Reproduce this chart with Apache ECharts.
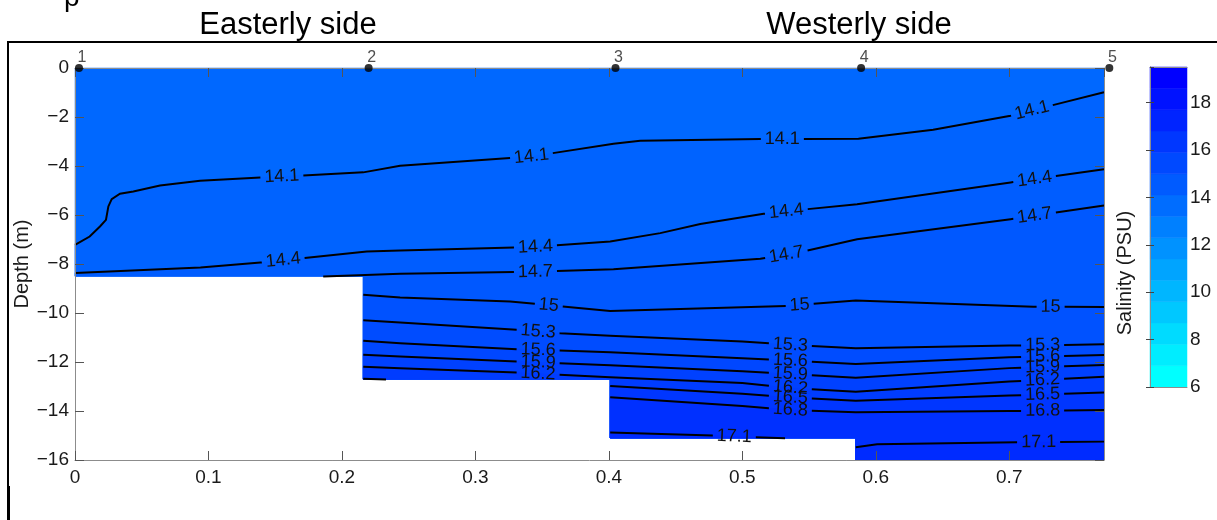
<!DOCTYPE html>
<html><head><meta charset="utf-8">
<script src="https://cdn.jsdelivr.net/npm/echarts@6/dist/echarts.min.js"></script>
<style>html,body{margin:0;padding:0;background:#fff;}#c{width:1217px;height:520px;}</style>
</head><body><div id="c"></div>
<script>
const FONT = '"Liberation Sans", Arial, Helvetica, sans-serif';

// ---- data ----
const xMax = 0.771;
const stationX = [0.003, 0.22, 0.405, 0.589, 0.775];
const stationNames = ['1', '2', '3', '4', '5'];

// bathymetry (step edges along distance, depth of each step)
const bottomEdges = [0, 0.216, 0.401, 0.585, 0.771];
const bottomDepths = [-8.5, -12.7, -15.1, -16];

// contour lines [distance, depth]
const line141 = [[0,-7.22],[0.011,-6.88],[0.0187,-6.47],[0.0232,-6.2],[0.025,-5.65],[0.0275,-5.35],[0.0337,-5.13],[0.0437,-5.04],[0.0637,-4.8],[0.0937,-4.6],[0.154,-4.43],[0.216,-4.26],[0.2436,-3.99],[0.342,-3.61],[0.4035,-3.09],[0.4235,-2.97],[0.5135,-2.9],[0.587,-2.89],[0.643,-2.52],[0.701,-1.95],[0.771,-0.99]];
const line144 = [[0,-8.37],[0.094,-8.14],[0.139,-7.94],[0.2186,-7.49],[0.2436,-7.45],[0.343,-7.31],[0.401,-7.08],[0.4385,-6.74],[0.4685,-6.37],[0.516,-5.95],[0.5435,-5.79],[0.586,-5.56],[0.701,-4.67],[0.771,-4.13]];
const line147 = [[0.186,-8.51],[0.2436,-8.4],[0.343,-8.32],[0.4035,-8.21],[0.5135,-7.79],[0.5435,-7.52],[0.586,-6.99],[0.701,-6.17],[0.771,-5.61]];
const line150 = [[0.216,-9.26],[0.2436,-9.37],[0.326,-9.53],[0.401,-9.92],[0.534,-9.71],[0.585,-9.49],[0.718,-9.74],[0.771,-9.76]];
const line153 = [[0.216,-10.3],[0.2436,-10.39],[0.332,-10.69],[0.3635,-10.83],[0.401,-10.93],[0.5,-11.16],[0.535,-11.3],[0.585,-11.44],[0.7,-11.33],[0.771,-11.28]];
const line156 = [[0.216,-11.13],[0.2436,-11.23],[0.332,-11.48],[0.401,-11.6],[0.5,-11.85],[0.54,-11.95],[0.585,-12.08],[0.7,-11.81],[0.771,-11.71]];
const line159 = [[0.216,-11.7],[0.2436,-11.78],[0.332,-11.98],[0.401,-12.13],[0.5,-12.38],[0.54,-12.5],[0.585,-12.64],[0.7,-12.25],[0.771,-12.12]];
const line162 = [[0.216,-12.19],[0.2436,-12.26],[0.332,-12.43],[0.401,-12.62],[0.5,-12.86],[0.54,-13.07],[0.585,-13.21],[0.7,-12.8],[0.771,-12.6]];
const line165a = [[0.216,-12.68],[0.233,-12.71]];
const line165 = [[0.401,-12.98],[0.5,-13.3],[0.54,-13.46],[0.585,-13.58],[0.7,-13.37],[0.771,-13.24]];
const line168 = [[0.401,-13.44],[0.5,-13.8],[0.54,-13.97],[0.585,-14.05],[0.7,-14.0],[0.771,-13.96]];
const line171a = [[0.401,-14.88],[0.478,-15.0],[0.508,-15.07],[0.532,-15.11]];
const line171b = [[0.585,-15.48],[0.601,-15.36],[0.706,-15.28],[0.771,-15.25]];

// contour label positions (distance)
const lab141 = [0.155, 0.342, 0.53, 0.717];
const lab144 = [0.156, 0.345, 0.533, 0.719];
const lab147 = [0.345, 0.533, 0.719];
const lab150 = [0.355, 0.543, 0.731];
const lab153 = [0.347, 0.536, 0.725];
const lab156 = [0.347, 0.536, 0.725];
const lab159 = [0.347, 0.536, 0.725];
const lab162 = [0.347, 0.536, 0.725];
const lab165 = [0.536, 0.725];
const lab168 = [0.536, 0.725];
const lab171a = [0.494];
const lab171b = [0.722];

// colorbar
const cbEdges = [6, 6.9, 7.8, 8.7, 9.6, 10.5, 11.4, 12.3, 13.2, 14.1, 15.0, 15.9, 16.8, 17.7, 18.6, 19.5];
const cbMin = 6, cbMax = 19.5;
const surfaceSalinity = 14.0;

// ---- build ----
const segments = [
  {level: 14.1, pts: line141, labs: lab141},
  {level: 14.4, pts: line144, labs: lab144},
  {level: 14.7, pts: line147, labs: lab147},
  {level: 15.0, pts: line150, labs: lab150},
  {level: 15.3, pts: line153, labs: lab153},
  {level: 15.6, pts: line156, labs: lab156},
  {level: 15.9, pts: line159, labs: lab159},
  {level: 16.2, pts: line162, labs: lab162},
  {level: 16.5, pts: line165a, labs: []},
  {level: 16.5, pts: line165, labs: lab165},
  {level: 16.8, pts: line168, labs: lab168},
  {level: 17.1, pts: line171a, labs: lab171a},
  {level: 17.1, pts: line171b, labs: lab171b}
];

function salColor(v) {
  const g = Math.round(Math.max(0, Math.min(255, 255 * (cbMax - v) / (cbMax - cbMin))));
  return 'rgb(0,' + g + ',255)';
}
function segIndex(x) {
  let i = 0;
  for (let k = 0; k < bottomDepths.length; k++) if (bottomEdges[k] <= x) i = k;
  return i;
}
function bottomPath(xa, xb) {
  const pts = [];
  let i = segIndex(xb);
  pts.push([xb, bottomDepths[i]]);
  while (bottomEdges[i] > xa && i > 0) {
    pts.push([bottomEdges[i], bottomDepths[i]]);
    pts.push([bottomEdges[i], bottomDepths[i - 1]]);
    i--;
  }
  pts.push([xa, bottomDepths[i]]);
  return pts;
}
function interpY(pts, x) {
  if (x <= pts[0][0]) return pts[0][1];
  for (let i = 0; i < pts.length - 1; i++) {
    const a = pts[i], b = pts[i + 1];
    if (x >= a[0] && x <= b[0]) return a[1] + (b[1] - a[1]) * (x - a[0]) / (b[0] - a[0]);
  }
  return pts[pts.length - 1][1];
}
function fmtLevel(v) { return String(+v.toFixed(1)); }
function fmtTick(v) { return String(+(+v).toFixed(2)).replace('-', '\u2212'); }

// polygons: water, then region below each contour (ascending level)
const polys = [];
polys.push({pts: [[0, 0], [xMax, 0]].concat(bottomPath(0, xMax)), color: salColor(surfaceSalinity)});
segments.forEach(s => {
  const p = s.pts;
  polys.push({pts: p.concat(bottomPath(p[0][0], p[p.length - 1][0])), color: salColor(s.level + 0.15)});
});

// labels
const mctx = document.createElement('canvas').getContext('2d');
const LABEL_FONT = '18px ' + FONT;
mctx.font = LABEL_FONT;
const labels = [];
segments.forEach((s, si) => {
  s.labs.forEach(x => {
    const text = fmtLevel(s.level);
    labels.push({seg: si, x: x, y: interpY(s.pts, x), text: text, w: mctx.measureText(text).width});
  });
});

function labelGeom(api, L) {
  const pts = segments[L.seg].pts;
  const d = 0.012;
  const p1 = api.coord([L.x - d, interpY(pts, L.x - d)]);
  const p2 = api.coord([L.x + d, interpY(pts, L.x + d)]);
  const c = api.coord([L.x, L.y]);
  const ang = Math.atan2(-(p2[1] - p1[1]), p2[0] - p1[0]);
  return {c: c, ang: ang};
}

function splitPolyline(pts, gaps) {
  const inGap = x => gaps.some(g => x > g[0] && x < g[1]);
  const out = [];
  let cur = [];
  for (let i = 0; i < pts.length - 1; i++) {
    const a = pts[i], b = pts[i + 1];
    const ts = [0, 1];
    if (b[0] !== a[0]) {
      gaps.forEach(g => g.forEach(gx => {
        const t = (gx - a[0]) / (b[0] - a[0]);
        if (t > 0 && t < 1) ts.push(t);
      }));
    }
    ts.sort((p, q) => p - q);
    for (let j = 0; j < ts.length - 1; j++) {
      const p0 = [a[0] + (b[0] - a[0]) * ts[j], a[1] + (b[1] - a[1]) * ts[j]];
      const p1 = [a[0] + (b[0] - a[0]) * ts[j + 1], a[1] + (b[1] - a[1]) * ts[j + 1]];
      if (inGap((p0[0] + p1[0]) / 2)) {
        if (cur.length > 1) out.push(cur);
        cur = [];
      } else {
        if (cur.length === 0) cur.push(p0);
        cur.push(p1);
      }
    }
  }
  if (cur.length > 1) out.push(cur);
  return out;
}

const AX = '#8c8c8c';
const TXT = '#1a1a1a';
function mainAxisBase() {
  return {
    axisLine: {show: true, onZero: false, lineStyle: {color: AX, width: 1}},
    axisTick: {show: true, inside: true, length: 9, lineStyle: {color: '#555'}},
    splitLine: {show: false},
    z: 5
  };
}

const option = {
  animation: false,
  backgroundColor: '#fff',
  grid: [
    {left: 75, top: 68, width: 1029, height: 392},
    {left: 1150, top: 67, width: 37, height: 320}
  ],
  xAxis: [
    Object.assign(mainAxisBase(), {gridIndex: 0, type: 'value', min: 0, max: xMax, interval: 0.1, position: 'bottom',
      axisLabel: {fontSize: 19, color: TXT, fontFamily: FONT, margin: 8, showMaxLabel: false, formatter: fmtTick}}),
    Object.assign(mainAxisBase(), {gridIndex: 0, type: 'value', min: 0, max: xMax, interval: 0.1, position: 'top',
      axisLabel: {show: false}}),
    {gridIndex: 1, type: 'value', min: 0, max: 1, position: 'bottom', axisLine: {show: true, lineStyle: {color: AX}},
      axisTick: {show: false}, axisLabel: {show: false}, splitLine: {show: false}, z: 5},
    {gridIndex: 1, type: 'value', min: 0, max: 1, position: 'top', axisLine: {show: true, lineStyle: {color: AX}},
      axisTick: {show: false}, axisLabel: {show: false}, splitLine: {show: false}, z: 5}
  ],
  yAxis: [
    Object.assign(mainAxisBase(), {gridIndex: 0, type: 'value', min: -16, max: 0, interval: 2, position: 'left',
      axisLabel: {fontSize: 19, color: TXT, fontFamily: FONT, margin: 6, formatter: fmtTick}}),
    Object.assign(mainAxisBase(), {gridIndex: 0, type: 'value', min: -16, max: 0, interval: 2, position: 'right',
      axisLabel: {show: false}}),
    {gridIndex: 1, type: 'value', min: cbMin, max: cbMax, interval: 2, position: 'right',
      axisLine: {show: true, lineStyle: {color: AX}},
      axisTick: {show: true, inside: true, length: 4, lineStyle: {color: '#444'}},
      axisLabel: {fontSize: 19, color: TXT, fontFamily: FONT, margin: 3, showMaxLabel: false},
      splitLine: {show: false}, z: 5},
    {gridIndex: 1, type: 'value', min: cbMin, max: cbMax, interval: 2, position: 'left',
      axisLine: {show: true, lineStyle: {color: AX}},
      axisTick: {show: true, inside: true, length: 4, lineStyle: {color: '#444'}},
      axisLabel: {show: false}, splitLine: {show: false}, z: 5}
  ],
  series: [
    {
      type: 'custom', name: 'fill', xAxisIndex: 0, yAxisIndex: 0, silent: true, z: 1,
      data: polys.map((p, i) => [i, 0]),
      renderItem: (params, api) => {
        const p = polys[api.value(0)];
        return {type: 'polygon', shape: {points: p.pts.map(q => api.coord(q))},
          style: {fill: p.color, stroke: p.color, lineWidth: 0.5}};
      }
    },
    {
      type: 'custom', name: 'contours', xAxisIndex: 0, yAxisIndex: 0, silent: true, z: 3,
      data: segments.map((s, i) => [i, 0]),
      renderItem: (params, api) => {
        const si = api.value(0);
        const seg = segments[si];
        const px = seg.pts.map(q => api.coord(q));
        const gaps = labels.filter(L => L.seg === si).map(L => {
          const g = labelGeom(api, L);
          const hw = (L.w / 2 + 4) * Math.cos(g.ang);
          return [g.c[0] - hw, g.c[0] + hw];
        });
        const parts = splitPolyline(px, gaps);
        return {type: 'group', children: parts.map(pp => ({type: 'polyline', shape: {points: pp},
          style: {stroke: '#000', lineWidth: 2, fill: null}}))};
      }
    },
    {
      type: 'custom', name: 'contourLabels', xAxisIndex: 0, yAxisIndex: 0, silent: true, z: 4,
      data: labels.map((L, i) => [i, 0]),
      renderItem: (params, api) => {
        const L = labels[api.value(0)];
        const g = labelGeom(api, L);
        return {type: 'text', x: g.c[0], y: g.c[1], rotation: g.ang,
          style: {text: L.text, font: LABEL_FONT, fill: '#111', align: 'center', verticalAlign: 'middle'}};
      }
    },
    {
      type: 'scatter', name: 'stations', xAxisIndex: 0, yAxisIndex: 0, silent: true, z: 10, clip: false,
      data: stationX.map((x, i) => ({value: [x, 0], name: stationNames[i]})),
      symbol: 'circle', symbolSize: 8, itemStyle: {color: '#000'},
      label: {show: true, position: 'top', distance: 0, offset: [3, 2], formatter: p => p.name,
        fontSize: 16, color: '#222', fontFamily: FONT}
    },
    {
      type: 'custom', name: 'colorbar', xAxisIndex: 2, yAxisIndex: 2, silent: true, z: 1,
      data: cbEdges.slice(0, -1).map((e, k) => [k, 0]),
      renderItem: (params, api) => {
        const k = api.value(0);
        const n = cbEdges.length - 1;
        const g = Math.round(255 * (1 - k / (n - 1)));
        const p1 = api.coord([0, cbEdges[k + 1]]);
        const p2 = api.coord([1, cbEdges[k]]);
        const col = 'rgb(0,' + g + ',255)';
        return {type: 'rect', shape: {x: p1[0], y: p1[1], width: p2[0] - p1[0], height: p2[1] - p1[1]},
          style: {fill: col, stroke: col, lineWidth: 0.5}};
      }
    }
  ],
  graphic: [
    {type: 'text', x: 288, y: 25, z: 20, style: {text: 'Easterly side', font: '31px ' + FONT, fill: '#000', align: 'center', verticalAlign: 'middle'}},
    {type: 'text', x: 859, y: 25, z: 20, style: {text: 'Westerly side', font: '31px ' + FONT, fill: '#000', align: 'center', verticalAlign: 'middle'}},
    {type: 'text', x: 64, y: -2, z: 20, style: {text: 'p', font: '28px ' + FONT, fill: '#000', align: 'left', verticalAlign: 'middle'}},
    {type: 'polyline', z: 20, shape: {points: [[1217, 42], [8, 42], [8, 520]]}, style: {stroke: '#000', lineWidth: 2, fill: null}},
    {type: 'line', z: 20, shape: {x1: 8.5, y1: 486, x2: 8.5, y2: 520}, style: {stroke: '#000', lineWidth: 3}},
    {type: 'text', x: 22, y: 264, rotation: Math.PI / 2, z: 20, style: {text: 'Depth (m)', font: '20px ' + FONT, fill: TXT, align: 'center', verticalAlign: 'middle'}},
    {type: 'text', x: 1125, y: 273, rotation: Math.PI / 2, z: 20, style: {text: 'Salinity (PSU)', font: '20px ' + FONT, fill: TXT, align: 'center', verticalAlign: 'middle'}}
  ]
};

const chart = echarts.init(document.getElementById('c'), null, {renderer: 'canvas'});
chart.setOption(option);
</script>
</body></html>
